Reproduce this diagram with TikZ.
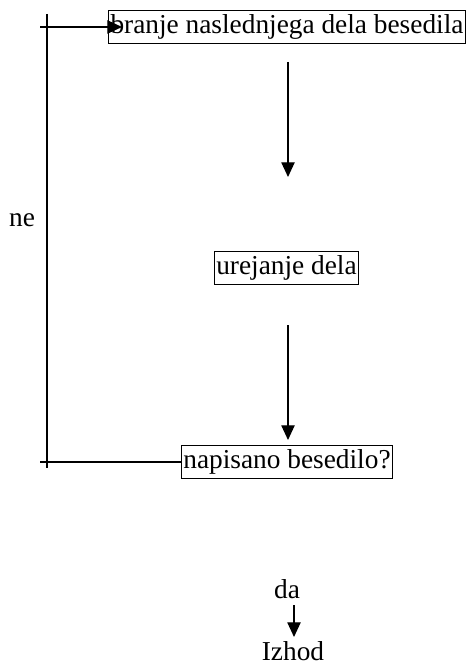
\documentclass[tikz,border=0pt]{standalone}
\usepackage{fontspec}
\setmainfont{Liberation Serif}
\usetikzlibrary{arrows.meta}
\tikzset{
  korak/.style={draw, line width=1.1pt, inner xsep=1.5pt, inner ysep=3pt},
  napis/.style={inner sep=0pt},
  puscica/.style={-{Triangle[width=10pt,length=11pt]}}
}
\begin{document}
\begin{tikzpicture}[x=0.75pt, y=-0.75pt, line width=0.9pt,
    font=\fontsize{20.5}{24}\selectfont]
      \useasboundingbox (0,0) rectangle (467,666);
      \node[korak] (branje) at (287,27) {branje naslednjega dela besedila};
      \node[korak] (urejanje) at (286.5,268) {urejanje dela};
      \node[korak] (napisano) at (287,462) {napisano besedilo?};
      \node[napis] (da) at (287,589) {da};
      \node[napis] (izhod) at (293,651) {Izhod};
      \node[napis] (ne) at (22,220) {ne};
      \coordinate (z1) at (288,62);
      \coordinate (k1) at (288,177);
      \coordinate (z2) at (288,325);
      \coordinate (k2) at (288,440);
      \coordinate (z3) at (294,605);
      \coordinate (k3) at (294,637);
      \coordinate (zgoraj) at (47,14);
      \coordinate (spodaj) at (47,468);
      \coordinate (levo1) at (40,27);
      \coordinate (konec1) at (122,27);
      \coordinate (levo2) at (40,462);
      \begin{scope}[puscica]
        \draw (z1) to (k1);
        \draw (z2) to (k2);
        \draw (z3) to (k3);
        \draw (levo1) to (konec1);
      \end{scope}
      \draw (zgoraj) to (spodaj);
      \draw (levo2) to (napisano.west);
    \end{tikzpicture}
\end{document}
